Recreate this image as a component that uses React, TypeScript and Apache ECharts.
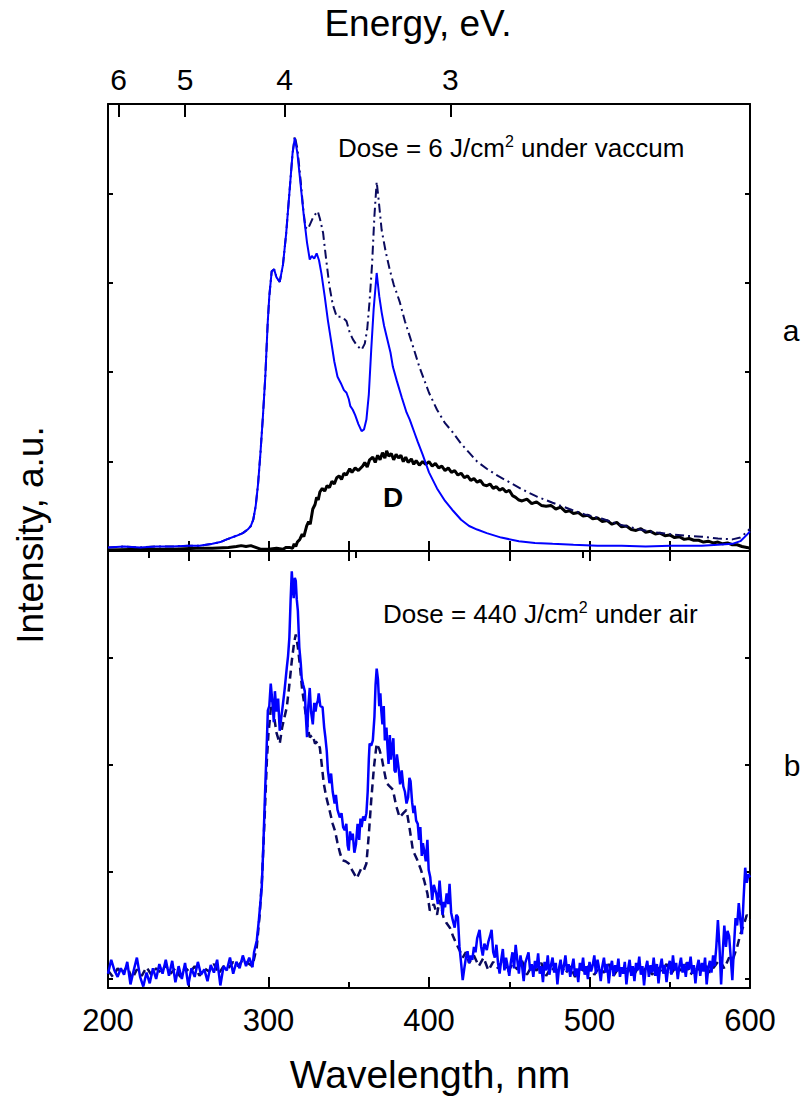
import React, { useEffect, useRef } from "react";
import * as echarts from "echarts";

// ---------- data ----------
const HC = 1240; // eV*nm, energy <-> wavelength
const ENERGY_MAJOR = [6, 5, 4, 3];
const ENERGY_MINOR = [5.5, 4.5, 3.5, 2.5];
const WL_MIN = 200;
const WL_MAX = 600;

// panel a: blue solid
const topBlue: number[][] = [
  [200, 0.04], [210, 0.05], [220, 0.04], [230, 0.05], [240, 0.05], [250, 0.06], [257, 0.06], [265, 0.08],
  [270, 0.1], [274, 0.13], [280, 0.17], [284, 0.2], [287, 0.24], [289, 0.28], [290.5, 0.35], [292, 0.5],
  [293.5, 0.75], [295, 1.1], [296.5, 1.5], [298, 1.95], [299.5, 2.55], [300.5, 2.85], [302, 3.13], [303.5, 3.15],
  [305, 3.06], [307, 3.01], [309, 3.2], [311, 3.55], [313, 4.0], [315, 4.45], [316.4, 4.62], [318, 4.45],
  [320, 4.1], [322, 3.75], [324, 3.45], [325.7, 3.26], [327, 3.3], [328.5, 3.27], [330, 3.33], [331.5, 3.25],
  [333, 3.1], [335, 2.85], [337, 2.58], [339, 2.35], [341, 2.12], [343, 1.95], [345, 1.88], [347, 1.8],
  [348.6, 1.77], [350, 1.7], [351, 1.62], [352.5, 1.58], [354, 1.52], [356, 1.42], [358, 1.34], [359.5, 1.36],
  [361, 1.47], [362.5, 1.75], [364, 2.25], [365.5, 2.7], [367.4, 3.11], [369, 2.85], [370.5, 2.67], [372, 2.52],
  [373.6, 2.4], [376, 2.22], [377.5, 2.06], [380, 1.9], [383, 1.72], [386, 1.55], [388, 1.47], [391, 1.32],
  [393, 1.22], [396, 1.08], [400, 0.88], [405, 0.7], [410, 0.56], [415, 0.45], [420, 0.35], [425, 0.28],
  [430, 0.24], [436, 0.2], [445, 0.15], [456, 0.11], [466, 0.09], [477, 0.08], [490, 0.07], [505, 0.06],
  [520, 0.06], [535, 0.05], [550, 0.06], [560, 0.06], [570, 0.06], [580, 0.07], [589, 0.08], [594, 0.11],
  [598, 0.18], [600, 0.22],
];

// panel a: navy dash-dot
const topDashDot: number[][] = [
  [200, 0.04], [210, 0.05], [220, 0.04], [230, 0.05], [240, 0.05], [250, 0.06], [257, 0.06], [265, 0.08],
  [270, 0.1], [274, 0.13], [280, 0.17], [284, 0.2], [287, 0.24], [289, 0.28], [290.5, 0.35], [292, 0.5],
  [293.5, 0.75], [295, 1.1], [296.5, 1.5], [298, 1.95], [299.5, 2.55], [300.5, 2.85], [302, 3.13], [303.5, 3.15],
  [305, 3.06], [307, 3.01], [309, 3.2], [311, 3.55], [313, 4.0], [315, 4.45], [316.4, 4.64], [318, 4.5],
  [320, 4.15], [321.5, 3.85], [323, 3.62], [324.5, 3.6], [326, 3.66], [328, 3.74], [330.7, 3.8], [332, 3.72],
  [334, 3.56], [336, 3.25], [338, 2.96], [340, 2.76], [342.5, 2.62], [345, 2.62], [347, 2.6], [348.6, 2.57],
  [350.5, 2.45], [352.5, 2.37], [355, 2.3], [358, 2.25], [360, 2.32], [361.5, 2.48], [363, 2.8], [364.5, 3.2],
  [366, 3.75], [367.4, 4.13], [368.5, 3.95], [370.5, 3.59], [373, 3.35], [375.5, 3.15], [378, 2.98], [380, 2.88],
  [381.7, 2.79], [385, 2.57], [390, 2.29], [394, 2.06], [400, 1.77], [405, 1.58], [410, 1.43], [414.7, 1.33],
  [420, 1.2], [425, 1.1], [430, 1.0], [436, 0.92], [443, 0.84], [450, 0.77], [458, 0.69], [467, 0.61],
  [477, 0.54], [487.5, 0.47], [497, 0.41], [508, 0.36], [518, 0.3], [529, 0.25], [540, 0.21], [549.7, 0.19],
  [560, 0.17], [570, 0.16], [580, 0.14], [589, 0.13], [594, 0.15], [598, 0.21], [600, 0.25],
];

// panel a: black "D"
const topBlack: number[][] = [
  [200, 0.01], [220, 0.02], [240, 0.02], [255, 0.03], [265, 0.03], [275, 0.04], [280, 0.05], [283, 0.06],
  [286, 0.05], [289, 0.06], [292, 0.04], [295, 0.02], [300, 0.02], [305, 0.03], [309, 0.02], [311, 0.04],
  [313, 0.04], [315, 0.03], [316, 0.08], [317, 0.05], [318, 0.1], [319.5, 0.13], [321, 0.19], [322, 0.16],
  [323.8, 0.28], [325, 0.33], [326, 0.3], [327.6, 0.47], [329, 0.52], [330, 0.6], [331, 0.57], [332, 0.66],
  [333.5, 0.7], [335, 0.67], [336.5, 0.73], [338, 0.71], [339.5, 0.78], [341, 0.75], [342.5, 0.82], [344, 0.84],
  [345.5, 0.8], [347, 0.87], [348.5, 0.85], [350.6, 0.92], [352, 0.88], [354, 0.93], [356, 0.9], [358.7, 0.95],
  [360, 0.99], [361.5, 0.94], [363, 1.02], [365, 1.05], [366.5, 0.99], [368, 1.07], [369.5, 1.02], [371, 1.1],
  [372.5, 1.04], [373.6, 1.12], [375, 1.06], [376.5, 1.09], [378, 1.02], [379.5, 1.08], [381, 1.04], [382.5, 1.07],
  [384, 1.0], [385.5, 1.05], [387, 0.99], [389, 1.03], [390.5, 0.97], [392, 1.01], [394, 0.96], [396, 1.0],
  [398, 0.97], [400, 1.0], [402, 0.95], [404, 0.98], [406, 0.93], [408, 0.95], [410, 0.9], [412, 0.93],
  [414, 0.88], [416, 0.9], [418, 0.85], [420, 0.87], [422, 0.82], [424, 0.84], [426, 0.79], [428, 0.81],
  [430, 0.77], [432, 0.79], [434, 0.74], [436, 0.73], [438, 0.75], [440, 0.7], [442, 0.72], [444, 0.68],
  [446, 0.7], [448, 0.66], [450, 0.68], [452, 0.62], [454, 0.6], [456, 0.57], [458, 0.56], [461, 0.58],
  [464, 0.53], [467, 0.55], [470, 0.51], [473, 0.5], [476, 0.51], [479, 0.47], [482, 0.49], [485, 0.44],
  [487.5, 0.45], [490, 0.42], [493, 0.43], [496, 0.39], [499, 0.4], [502, 0.36], [505, 0.37], [508, 0.33],
  [511, 0.34], [514, 0.3], [517, 0.32], [520, 0.27], [523, 0.28], [526, 0.24], [529, 0.23], [532, 0.25],
  [535, 0.21], [538, 0.22], [541, 0.19], [544, 0.2], [547, 0.17], [550, 0.18], [553, 0.15], [556, 0.16],
  [559, 0.13], [562, 0.14], [565, 0.12], [568, 0.12], [571, 0.1], [574, 0.11], [577, 0.09], [580, 0.1],
  [583, 0.08], [586, 0.09], [589, 0.07], [592, 0.07], [595, 0.05], [598, 0.04], [600, 0.03],
];

// panel b: blue solid
const botBlue: number[][] = [
  [200, 0.05], [202, 0.18], [204, 0.08], [206, 0.02], [208, 0.1], [210, 0.04], [212, 0.16], [214, -0.05],
  [216, 0.08], [218, 0.2], [220, 0.02], [222, -0.07], [224, 0.06], [226, -0.04], [228, 0.1], [230, 0.0],
  [232, 0.14], [234, 0.05], [236, 0.18], [238, 0.03], [240, 0.17], [242, -0.03], [244, 0.12], [246, 0.0],
  [248, 0.15], [250, -0.06], [252, 0.1], [254, 0.02], [256, 0.16], [258, 0.04], [260, 0.09], [262, -0.02],
  [264, 0.13], [266, 0.06], [268, 0.18], [270, -0.06], [272, 0.12], [274, 0.08], [276, 0.2], [278, 0.05],
  [280, 0.16], [282, 0.1], [284, 0.22], [286, 0.12], [288, 0.2], [290, 0.11], [291, 0.25], [292.7, 0.36],
  [294, 0.55], [295.8, 0.86], [296.8, 1.25], [297.7, 1.67], [298.7, 2.1], [299.6, 2.51], [300.5, 2.55], [301.4, 2.76],
  [302.7, 2.54], [303.3, 2.4], [304, 2.69], [305, 2.5], [306, 2.62], [307, 2.32], [308, 2.45], [309, 2.57],
  [310, 2.7], [311.4, 2.91], [312.2, 3.02], [313, 3.19], [313.8, 3.55], [314.5, 3.81], [315.1, 3.66], [315.7, 3.56],
  [316.4, 3.75], [317, 3.72], [317.6, 3.55], [318.3, 3.44], [319.2, 3.1], [320.1, 2.95], [320.7, 2.81], [321.6, 2.75],
  [322.6, 2.69], [323.3, 2.45], [324, 2.26], [324.8, 2.55], [325.7, 2.72], [326.5, 2.5], [327.6, 2.38], [328.5, 2.58],
  [329.3, 2.5], [330, 2.57], [330.7, 2.6], [331.3, 2.67], [332.3, 2.55], [333.7, 2.54], [334.7, 2.35], [335.5, 2.25],
  [336.3, 2.13], [337, 1.95], [338, 1.83], [339, 1.92], [340, 1.75], [341.2, 1.64], [342, 1.72], [343, 1.58],
  [344.4, 1.51], [345.5, 1.55], [346.5, 1.42], [347.5, 1.39], [348.5, 1.45], [349.3, 1.25], [350, 1.2], [350.8, 1.38],
  [351.7, 1.3], [352.5, 1.36], [353.5, 1.18], [354.5, 1.26], [355.5, 1.45], [356.5, 1.3], [357.3, 1.5], [358, 1.42],
  [359, 1.52], [360, 1.48], [361, 1.55], [361.8, 1.75], [362.5, 2.05], [363, 2.2], [364, 2.18], [365, 2.23],
  [366, 2.45], [366.7, 2.75], [367.4, 2.9], [368.2, 2.8], [369, 2.55], [369.7, 2.67], [370.3, 2.5], [371, 2.38],
  [371.8, 2.55], [372.5, 2.23], [373.5, 2.35], [374.2, 2.15], [374.8, 2.01], [375.6, 2.28], [376.3, 2.05], [377, 2.16],
  [377.8, 2.25], [378.5, 1.95], [379.2, 1.93], [380, 2.1], [381, 1.98], [382, 1.82], [383, 1.95], [384, 1.8],
  [385, 1.75], [386, 1.64], [387, 1.7], [387.8, 1.88], [388.5, 1.85], [389.5, 1.65], [390.3, 1.55], [391, 1.62],
  [392, 1.48], [393, 1.45], [393.8, 1.3], [394.6, 1.42], [395.5, 1.15], [396.2, 1.27], [397, 1.2], [398, 1.1],
  [399, 1.3], [399.8, 1.02], [400.8, 0.95], [402, 0.74], [403, 0.88], [404.5, 0.8], [405.5, 0.7], [406.6, 0.92],
  [407.5, 0.75], [408.5, 0.6], [409.3, 0.72], [410, 0.67], [411, 0.8], [412, 0.7], [412.8, 0.89], [413.8, 0.62],
  [414.8, 0.55], [416, 0.48], [417, 0.6], [418, 0.58], [419, 0.3], [420, 0.15], [421, -0.01], [422, 0.1],
  [423, 0.2], [424, 0.26], [425, 0.15], [426, 0.22], [427, 0.18], [428, 0.3], [429, 0.25], [430, 0.38],
  [431.5, 0.46], [432.5, 0.3], [433.5, 0.22], [434.5, 0.33], [436, 0.27], [437, 0.35], [438, 0.4], [439, 0.46],
  [440, 0.25], [441, 0.2], [442, 0.32], [443, 0.15], [444, 0.05], [445, 0.18], [446, 0.28], [447, 0.08],
  [448, 0.2], [449, 0.12], [450, 0.03], [451, 0.16], [452, 0.25], [453, 0.1], [454, 0.32], [455, 0.18],
  [456, 0.05], [457, 0.22], [458, 0.12], [459, -0.02], [460, 0.15], [462, 0.25], [463, 0.08], [464, 0.14],
  [465, 0.02], [466, 0.17], [467, 0.1], [468, 0.24], [469, 0.05], [470, 0.12], [471, -0.03], [472, 0.16],
  [473, 0.08], [474, 0.22], [475, 0.04], [476, 0.13], [477, 0.2], [478, 0.06], [479, 0.15], [480, -0.05],
  [481, 0.1], [482, 0.18], [483, 0.04], [484, 0.12], [485, 0.22], [486, 0.07], [487, 0.14], [488, 0.02],
  [489, 0.11], [490, 0.19], [491, 0.03], [492, 0.1], [493, -0.03], [494, 0.15], [495, 0.08], [496, 0.2],
  [497, 0.04], [498, 0.12], [499, 0.0], [500, 0.16], [501, 0.07], [502, 0.13], [503, 0.22], [504, 0.05],
  [505, 0.18], [506, 0.1], [507, -0.02], [508, 0.12], [509, 0.2], [510, 0.06], [511, 0.14], [512, -0.04],
  [513, 0.1], [514, 0.17], [515, 0.03], [516, 0.13], [517, 0.07], [518, 0.19], [519, 0.02], [520, 0.11],
  [521, 0.05], [522, 0.16], [523, -0.05], [524, 0.09], [525, 0.18], [526, 0.03], [527, 0.12], [528, -0.02],
  [529, 0.15], [530, 0.08], [531, 0.21], [532, 0.04], [533, 0.12], [534, -0.06], [535, 0.1], [536, 0.17],
  [537, 0.02], [538, 0.13], [539, 0.06], [540, 0.2], [541, 0.03], [542, 0.14], [543, -0.04], [544, 0.11],
  [545, 0.19], [546, 0.05], [547, 0.13], [548, -0.03], [549, 0.1], [550, 0.17], [551, 0.04], [552, 0.22],
  [553, 0.08], [554, 0.15], [555, 0.0], [556, 0.12], [557, 0.2], [558, 0.06], [559, 0.14], [560, 0.02],
  [561, 0.16], [562, 0.09], [563, 0.21], [564, 0.05], [565, 0.13], [566, -0.04], [567, 0.11], [568, 0.18],
  [569, 0.03], [570, 0.15], [571, 0.07], [572, 0.2], [573, -0.05], [574, 0.1], [575, 0.17], [576, 0.06],
  [577, 0.22], [578, 0.12], [579, 0.3], [580, 0.55], [581, 0.3], [582, -0.05], [583, 0.25], [584, 0.5],
  [585, 0.3], [586, 0.45], [587, 0.4], [588, 0.2], [589, -0.01], [590, 0.3], [591, 0.57], [592, 0.5],
  [593, 0.71], [594, 0.55], [595, 0.42], [596, 0.75], [597, 1.04], [598, 0.9], [599, 0.98], [600, 0.95],
];

// panel b: navy dashed
const botDashed: number[][] = [
  [200, 0.08], [203, 0.02], [206, 0.1], [209, 0.05], [212, 0.12], [215, 0.0], [218, 0.09], [221, 0.03],
  [224, 0.11], [227, 0.04], [230, 0.1], [233, 0.06], [236, 0.13], [239, 0.05], [242, 0.1], [245, 0.02],
  [248, 0.11], [251, 0.06], [254, 0.12], [257, 0.03], [260, 0.1], [263, 0.07], [266, 0.14], [269, 0.05],
  [272, 0.12], [275, 0.1], [278, 0.16], [281, 0.12], [284, 0.18], [287, 0.15], [290, 0.12], [292.7, 0.3],
  [294.5, 0.6], [296, 0.95], [297.7, 1.55], [299, 2.05], [300, 2.3], [301, 2.45], [302, 2.63], [303.5, 2.45],
  [305, 2.3], [307, 2.2], [308.5, 2.35], [310, 2.45], [311.4, 2.54], [313, 2.75], [314.5, 2.97], [316, 3.15],
  [317, 3.22], [318.3, 3.1], [319.5, 2.94], [321, 2.7], [322.6, 2.54], [324, 2.38], [325.7, 2.26], [327.5, 2.28],
  [329, 2.2], [330.5, 2.22], [332, 2.16], [333.2, 2.0], [334.4, 1.83], [336, 1.7], [338, 1.58], [340, 1.45],
  [341.5, 1.38], [343, 1.27], [344.5, 1.18], [346, 1.11], [348, 1.1], [350, 1.08], [352, 1.02], [353.5, 0.98],
  [355, 0.94], [356.5, 0.99], [358, 1.04], [359.5, 1.02], [361, 1.08], [362.5, 1.35], [364, 1.67], [365.7, 1.98],
  [367.4, 2.2], [369, 2.15], [370.5, 2.07], [372, 1.95], [373.6, 1.83], [375.5, 1.8], [377.5, 1.77], [379.5, 1.62],
  [381.7, 1.51], [384, 1.55], [386, 1.58], [388, 1.4], [390, 1.2], [392.5, 1.12], [395, 1.02], [397, 0.92],
  [399, 0.8], [400.5, 0.64], [403, 0.7], [405, 0.6], [406.6, 0.74], [409, 0.58], [411, 0.52], [413, 0.48],
  [415, 0.4], [417, 0.33], [419, 0.27], [421, 0.2], [423, 0.25], [425, 0.15], [428, 0.22], [431, 0.12],
  [434, 0.2], [437, 0.08], [440, 0.16], [443, 0.1], [446, 0.18], [449, 0.06], [452, 0.14], [455, 0.09],
  [458, 0.17], [461, 0.04], [464, 0.12], [467, 0.08], [470, 0.15], [473, 0.03], [476, 0.11], [479, 0.07],
  [482, 0.14], [485, 0.05], [488, 0.12], [491, 0.02], [494, 0.1], [497, 0.07], [500, 0.13], [503, 0.04],
  [506, 0.11], [509, 0.06], [512, 0.14], [515, 0.03], [518, 0.1], [521, 0.07], [524, 0.13], [527, 0.02],
  [530, 0.1], [533, 0.06], [536, 0.12], [539, 0.04], [542, 0.11], [545, 0.07], [548, 0.14], [551, 0.05],
  [554, 0.12], [557, 0.08], [560, 0.15], [563, 0.04], [566, 0.12], [569, 0.08], [572, 0.14], [575, 0.06],
  [578, 0.12], [581, 0.18], [584, 0.1], [587, 0.2], [589, 0.17], [592, 0.3], [594, 0.42], [596, 0.5],
  [598, 0.6], [600, 0.55],
];

const TOP_Y_TICKS = [1, 2, 3, 4];
const BOT_Y_TICKS = [0, 1, 2, 3];

const FONT = "'Liberation Sans', Arial, Helvetica, sans-serif";

export default function App() {
  const ref = useRef<HTMLDivElement>(null);

  useEffect(() => {
    if (!ref.current) return;
    const chart = echarts.init(ref.current, undefined, { renderer: "svg" });

    const majorWl = ENERGY_MAJOR.map((e) => HC / e);
    const minorWl = ENERGY_MINOR.map((e) => HC / e);
    const black = { color: "#000", width: 2 };

    const baseX = {
      type: "value" as const,
      min: WL_MIN,
      max: WL_MAX,
      axisLine: { show: true, onZero: false, lineStyle: black },
      splitLine: { show: false },
      axisLabel: { show: false },
    };

    const yCommon = {
      type: "value" as const,
      axisLine: { show: true, onZero: false, lineStyle: black },
      splitLine: { show: false },
      axisLabel: { show: false },
    };

    const option: any = {
      animation: false,
      backgroundColor: "#fff",
      grid: [
        { left: 108, top: 104, width: 642, height: 447 },
        { left: 108, top: 551, width: 642, height: 437 },
      ],
      xAxis: [
        {
          ...baseX,
          gridIndex: 0,
          position: "bottom",
          interval: 50,
          axisTick: { show: true, inside: true, length: 10, lineStyle: black },
        },
        {
          ...baseX,
          gridIndex: 0,
          position: "top",
          axisTick: { show: true, inside: true, length: 13, customValues: majorWl, lineStyle: black },
          axisLabel: {
            show: true,
            customValues: majorWl,
            formatter: (v: number) => String(Math.round(HC / v)),
            fontSize: 30,
            fontFamily: FONT,
            color: "#000",
            margin: 10,
          },
        },
        {
          ...baseX,
          gridIndex: 0,
          position: "top",
          axisLine: { show: false },
          axisTick: { show: true, inside: true, length: 7, customValues: minorWl, lineStyle: black },
        },
        {
          ...baseX,
          gridIndex: 1,
          position: "top",
          interval: 50,
          axisTick: { show: true, inside: true, length: 10, lineStyle: black },
        },
        {
          ...baseX,
          gridIndex: 1,
          position: "bottom",
          interval: 100,
          axisTick: { show: true, inside: true, length: 11, lineStyle: black },
          minorTick: { show: true, splitNumber: 2, length: 6, lineStyle: black },
          axisLabel: {
            show: true,
            fontSize: 31,
            fontFamily: FONT,
            color: "#000",
            margin: 17,
          },
        },
      ],
      yAxis: [
        {
          ...yCommon,
          gridIndex: 0,
          position: "left",
          min: 0,
          max: 5,
          axisTick: { show: true, inside: true, length: 5, customValues: TOP_Y_TICKS, lineStyle: black },
        },
        {
          ...yCommon,
          gridIndex: 0,
          position: "right",
          min: 0,
          max: 5,
          axisTick: { show: true, inside: true, length: 5, customValues: TOP_Y_TICKS, lineStyle: black },
        },
        {
          ...yCommon,
          gridIndex: 1,
          position: "left",
          min: -0.084,
          max: 4,
          axisTick: { show: true, inside: true, length: 5, customValues: BOT_Y_TICKS, lineStyle: black },
        },
        {
          ...yCommon,
          gridIndex: 1,
          position: "right",
          min: -0.084,
          max: 4,
          axisTick: { show: true, inside: true, length: 5, customValues: BOT_Y_TICKS, lineStyle: black },
        },
      ],
      series: [
        {
          name: "D",
          type: "line",
          xAxisIndex: 0,
          yAxisIndex: 0,
          data: topBlack,
          showSymbol: false,
          lineStyle: { color: "#000", width: 3 },
          z: 2,
        },
        {
          name: "vacuum dash-dot",
          type: "line",
          xAxisIndex: 0,
          yAxisIndex: 0,
          data: topDashDot,
          showSymbol: false,
          lineStyle: { color: "#0a0a5e", width: 2, type: [9, 4, 2, 4] },
          z: 3,
        },
        {
          name: "vacuum solid",
          type: "line",
          xAxisIndex: 0,
          yAxisIndex: 0,
          data: topBlue,
          showSymbol: false,
          lineStyle: { color: "#0000ff", width: 2 },
          z: 4,
        },
        {
          name: "air dashed",
          type: "line",
          xAxisIndex: 4,
          yAxisIndex: 2,
          data: botDashed,
          showSymbol: false,
          lineStyle: { color: "#0a0a5e", width: 2.5, type: [8, 5] },
          z: 3,
        },
        {
          name: "air solid",
          type: "line",
          xAxisIndex: 4,
          yAxisIndex: 2,
          data: botBlue,
          showSymbol: false,
          lineStyle: { color: "#0000ff", width: 2.5 },
          z: 4,
        },
      ],
      graphic: [
        {
          type: "text",
          x: 418,
          y: 23,
          style: { text: "Energy, eV.", fontSize: 37, fontFamily: FONT, fill: "#000", align: "center", verticalAlign: "middle" },
        },
        {
          type: "text",
          x: 430,
          y: 1074,
          style: { text: "Wavelength, nm", fontSize: 39, fontFamily: FONT, fill: "#000", align: "center", verticalAlign: "middle" },
        },
        {
          type: "text",
          x: 30,
          y: 535,
          rotation: Math.PI / 2,
          style: { text: "Intensity, a.u.", fontSize: 37, fontFamily: FONT, fill: "#000", align: "center", verticalAlign: "middle" },
        },
        {
          type: "text",
          x: 338,
          y: 148,
          style: {
            text: "{n|Dose = 6 J/cm}{s|2}{n| under vaccum}",
            align: "left",
            verticalAlign: "middle",
            rich: {
              n: { fontSize: 26, fontFamily: FONT, fill: "#000", lineHeight: 30 },
              s: { fontSize: 16, fontFamily: FONT, fill: "#000", verticalAlign: "top", lineHeight: 30 },
            },
          },
        },
        {
          type: "text",
          x: 383,
          y: 614,
          style: {
            text: "{n|Dose = 440 J/cm}{s|2}{n| under air}",
            align: "left",
            verticalAlign: "middle",
            rich: {
              n: { fontSize: 26, fontFamily: FONT, fill: "#000", lineHeight: 30 },
              s: { fontSize: 16, fontFamily: FONT, fill: "#000", verticalAlign: "top", lineHeight: 30 },
            },
          },
        },
        {
          type: "text",
          x: 393,
          y: 497,
          style: { text: "D", fontSize: 28, fontWeight: "bold", fontFamily: FONT, fill: "#000", align: "center", verticalAlign: "middle" },
        },
        {
          type: "text",
          x: 791,
          y: 330,
          style: { text: "a", fontSize: 30, fontFamily: FONT, fill: "#000", align: "center", verticalAlign: "middle" },
        },
        {
          type: "text",
          x: 792,
          y: 765,
          style: { text: "b", fontSize: 30, fontFamily: FONT, fill: "#000", align: "center", verticalAlign: "middle" },
        },
      ],
    };

    chart.setOption(option);
    return () => chart.dispose();
  }, []);

  return (
    <div
      ref={ref}
      style={{ position: "absolute", left: 0, top: 0, width: 805, height: 1097, background: "#fff" }}
    />
  );
}
